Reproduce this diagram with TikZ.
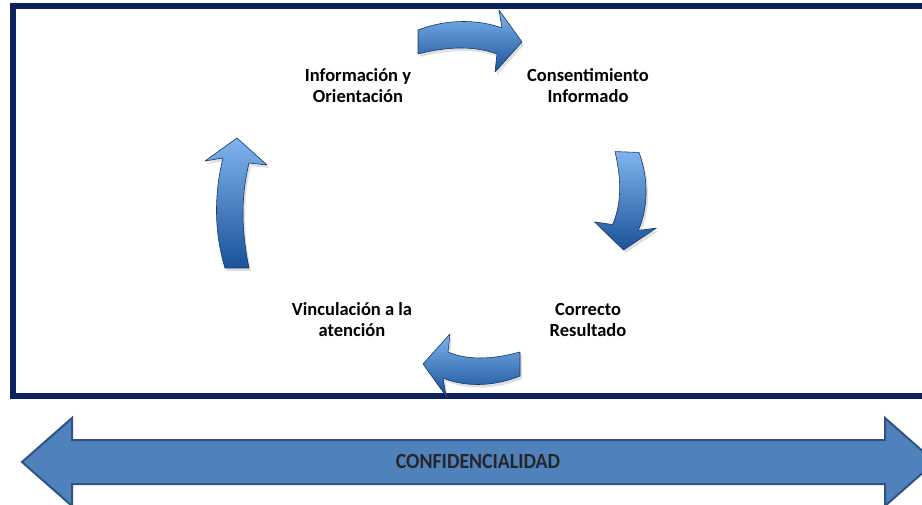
\documentclass[tikz,border=0pt]{standalone}
\usepackage{fontspec}
\setmainfont{Carlito}
\usetikzlibrary{shadows}
\definecolor{marco}{HTML}{0B2160}
\definecolor{azulclaro}{HTML}{7FB4EE}
\definecolor{azulmedio}{HTML}{3D80D2}
\definecolor{azuloscuro}{HTML}{1B5299}
\definecolor{flechafondo}{HTML}{4F81BD}
\definecolor{flechaborde}{HTML}{2F5385}
\tikzset{
  etapa/.style={align=center,font=\fontsize{18.5}{21}\selectfont\bfseries},
  flechaciclo/.style={top color=azulclaro,middle color=azulmedio,bottom color=azuloscuro,
    draw=azuloscuro!70!black,line width=0.6pt,line join=round,
    drop shadow={opacity=0.25,shadow xshift=2pt,shadow yshift=-3pt}},
  flechagrande/.style={fill=flechafondo,draw=flechaborde,line width=2pt,line join=miter}
}
\newcommand{\flechaciclo}[4]{%
  \draw[flechaciclo,shift={(#1,#2)},rotate=#3]
    (0,-12) .. controls ({0.3*#4},-24) and ({0.6*#4},-22) .. ({#4-20},-14)
    -- ({#4-23},-32) -- (#4,0) -- ({#4-27},30) -- ({#4-25},12)
    .. controls ({0.55*#4},4) and ({0.3*#4},4) .. (0,12) -- cycle;}
\begin{document}
\begin{tikzpicture}[x=1pt,y=-1pt]
                \clip (0,0) rectangle (922,505);
                \fill[white] (0,0) rectangle (922,505);
                \draw[marco,line width=6pt] (13,6) rectangle (945,396);

                \node[etapa] (informacion) at (358,86) {Información y\\Orientación};
                \node[etapa] (consentimiento) at (588,86) {Consentimiento\\Informado};
                \node[etapa] (correcto) at (588,320) {Correcto\\Resultado};
                \node[etapa] (vinculacion) at (352,320) {Vinculación a la\\atención};

                \flechaciclo{418}{42}{0}{104}
                \flechaciclo{627}{152}{-92}{98}
                \flechaciclo{520}{364}{180}{97}
                \flechaciclo{237}{268}{90}{130}

                \draw[flechagrande] (22,462) -- (72,418) -- (72,440) -- (885,440) -- (885,418)
                    -- (935,462) -- (885,506) -- (885,484) -- (72,484) -- (72,506) -- cycle;
                \node[font=\fontsize{18}{18}\selectfont\bfseries,text=black!85] (confidencialidad) at (478,461)
                    {\scalebox{1.1}[1.2]{CONFIDENCIALIDAD}};
            \end{tikzpicture}
\end{document}
